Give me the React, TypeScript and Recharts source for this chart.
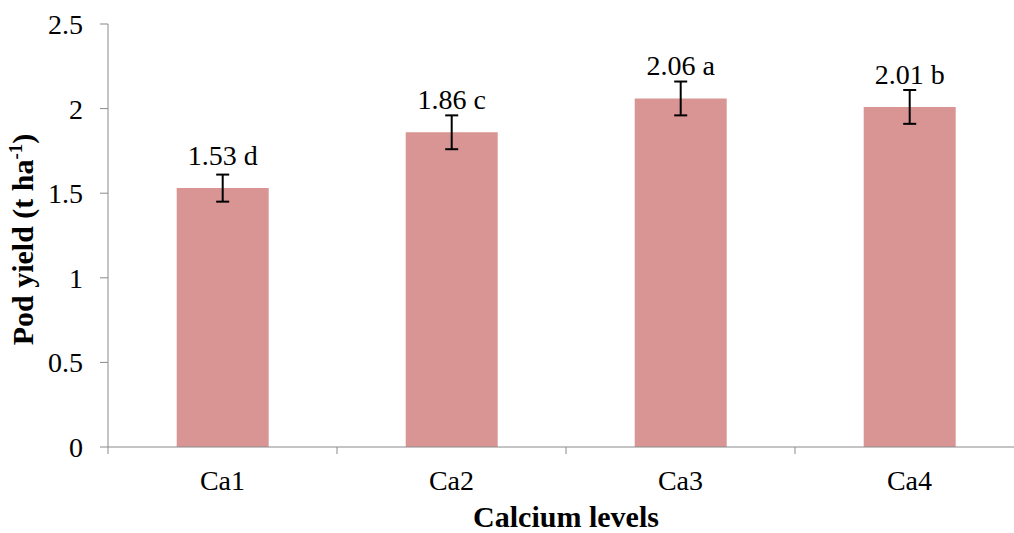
import { BarChart, Bar, XAxis, YAxis, ErrorBar, LabelList, Label } from 'recharts';

const categories = ['Ca1', 'Ca2', 'Ca3', 'Ca4'];
const podYield = [1.53, 1.86, 2.06, 2.01];
const yieldError = [0.08, 0.1, 0.1, 0.1];
const letters = ['d', 'c', 'a', 'b'];
const yTicks = [0, 0.5, 1, 1.5, 2, 2.5];

const data = categories.map((name, i) => ({
  name,
  value: podYield[i],
  err: yieldError[i],
}));

const FONT = '"Liberation Serif", "Times New Roman", serif';
const AXIS_COLOR = '#8a8a8a';
const CHART_W = 1040;
const CHART_H = 533;
const MARGIN = { top: 24, right: 16, bottom: 0, left: 0 };
const Y_AXIS_W = 108;
const BAND = (CHART_W - MARGIN.left - MARGIN.right - Y_AXIS_W) / categories.length;

// category ticks sit on the band edges, like Excel does
function XTick(props: any) {
  const { x, y, payload, index } = props;
  const last = index === categories.length - 1;
  return (
    <g>
      <line x1={x - BAND / 2} x2={x - BAND / 2} y1={y} y2={y + 7} stroke={AXIS_COLOR} />
      {last && <line x1={x + BAND / 2} x2={x + BAND / 2} y1={y} y2={y + 7} stroke={AXIS_COLOR} />}
      <text x={x} y={y + 43} textAnchor="middle" fontSize={28} fontFamily={FONT} fill="#000">
        {payload.value}
      </text>
    </g>
  );
}

function YTitle(props: any) {
  const { viewBox } = props;
  const cx = viewBox.x + 33;
  const cy = viewBox.y + viewBox.height / 2 + 4;
  return (
    <text
      x={cx}
      y={cy}
      transform={`rotate(-90 ${cx} ${cy})`}
      textAnchor="middle"
      fontSize={30}
      fontWeight="bold"
      fontFamily={FONT}
      fill="#000"
    >
      Pod yield (t ha
      <tspan dy={-11} fontSize={19}>-1</tspan>
      <tspan dy={11}>)</tspan>
    </text>
  );
}

function XTitle(props: any) {
  const { viewBox } = props;
  return (
    <text
      x={viewBox.x + viewBox.width / 2}
      y={viewBox.y + 80}
      textAnchor="middle"
      fontSize={30}
      fontWeight="bold"
      fontFamily={FONT}
      fill="#000"
    >
      Calcium levels
    </text>
  );
}

function ValueLabel(props: any) {
  const { x, y, width, index, value } = props;
  return (
    <text x={x + width / 2} y={y - 23} textAnchor="middle" fontSize={28} fontFamily={FONT} fill="#000">
      {`${Number(value).toFixed(2)} ${letters[index]}`}
    </text>
  );
}

export default function App() {
  return (
    <div style={{ position: 'absolute', left: 0, top: 0, width: 1014, height: CHART_H, overflow: 'hidden', background: '#fff' }}>
      <BarChart width={CHART_W} height={CHART_H} data={data} margin={MARGIN} barCategoryGap="30%">
        <XAxis
          dataKey="name"
          height={86}
          stroke={AXIS_COLOR}
          tickLine={false}
          tickSize={0}
          tickMargin={0}
          tick={<XTick />}
          interval={0}
        >
          <Label content={<XTitle />} />
        </XAxis>
        <YAxis
          width={Y_AXIS_W}
          domain={[0, 2.5]}
          ticks={yTicks}
          stroke={AXIS_COLOR}
          tickSize={8}
          tickMargin={17}
          tick={{ fontSize: 28, fill: '#000', fontFamily: FONT }}
        >
          <Label content={<YTitle />} />
        </YAxis>
        <Bar dataKey="value" fill="#D99594" isAnimationActive={false}>
          <ErrorBar dataKey="err" width={6.5} stroke="#000" strokeWidth={2} direction="y" isAnimationActive={false} />
          <LabelList dataKey="value" content={<ValueLabel />} />
        </Bar>
      </BarChart>
    </div>
  );
}
